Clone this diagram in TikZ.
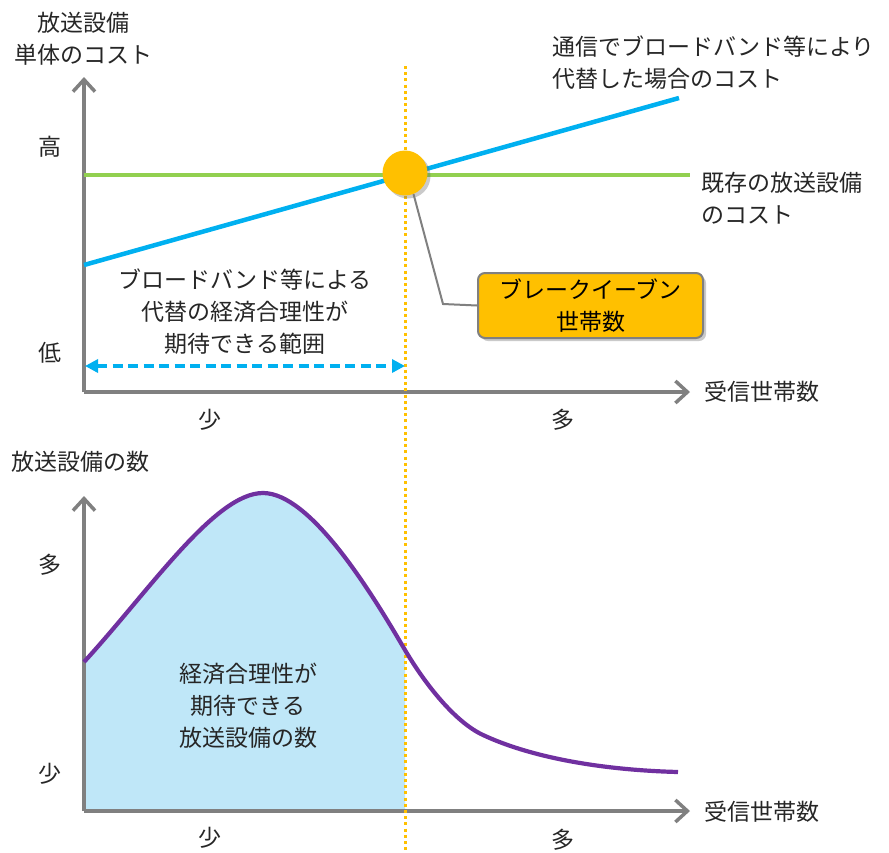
\documentclass[tikz,border=0pt]{standalone}
\usepackage{fontspec}
\newfontfamily\jp{Noto Sans CJK JP}
\usetikzlibrary{arrows.meta,shadows}
\definecolor{txt}{HTML}{262626}
\definecolor{axisgray}{HTML}{808080}
\definecolor{lgreen}{HTML}{92D050}
\definecolor{lblue}{HTML}{00B0F0}
\definecolor{orng}{HTML}{FFC000}
\definecolor{purp}{HTML}{7030A0}
\definecolor{fillblue}{HTML}{BFE7F8}
\begin{document}
\begin{tikzpicture}[x=1pt,y=-1pt,
  every node/.style={font=\jp\fontsize{23}{32}\selectfont, text=txt, inner sep=0pt},
  axis/.style={draw=axisgray, line width=3.5, -{Straight Barb[length=12,width=22,line width=3.5]}},
  myshadow/.style={drop shadow={shadow xshift=3pt, shadow yshift=-3pt, opacity=0.35, fill=black!60}},
  lbl/.style={align=center}]
\useasboundingbox (0,0) rectangle (889,852);

% ---------- coordinates ----------
\coordinate (Y1) at (84,77);
\coordinate (X1) at (690,392);
\coordinate (Y2) at (84,496);
\coordinate (X2) at (690,811);
\coordinate (Dtop) at (405,66);
\coordinate (Dbot) at (405,852);
\coordinate (G0) at (84,175);
\coordinate (G1) at (690,175);
\coordinate (B0) at (84,265);
\coordinate (B1) at (679,98);
\coordinate (A0) at (85,366);
\coordinate (A1) at (405,366);
\coordinate (bend) at (443,304);

\def\curvepath{(84,662) .. controls (150,590) and (215,493) .. (263,493)
  .. controls (310,493) and (370,590) .. (405,650)
  .. controls (425,684) and (455,722) .. (483,735)
  .. controls (530,757) and (600,770) .. (678,772)}

% ---------- bottom fill ----------
\begin{scope}
  \clip (84,480) rectangle (405,811);
  \fill[fillblue] \curvepath -- (678,811) -- (84,811) -- cycle;
\end{scope}

% ---------- axes ----------
\draw[axis] (84,392) -- (Y1);
\draw[axis] (84,392) -- (X1);
\draw[axis] (84,811) -- (Y2);
\draw[axis] (84,811) -- (X2);

% ---------- top chart lines ----------
\draw[lgreen, line width=4.2] (G0) -- (G1);
\draw[lblue, line width=4.5] (B0) -- (B1);

% ---------- dotted guide ----------
\draw[orng, line width=3, dash pattern=on 3 off 3.2] (Dtop) -- (Dbot);

% ---------- dashed range arrow ----------
\draw[lblue, line width=3.5, dash pattern=on 10 off 5.5, {Triangle[length=13,width=13]}-{Triangle[length=13,width=13]}] (A0) -- (A1);

% ---------- bottom curve ----------
\draw[purp, line width=4.2] \curvepath;

% ---------- break-even ----------
\node[circle, fill=orng, minimum size=45, myshadow] (bep) at (405,173) {};
\node[draw=axisgray, line width=2, fill=orng, rounded corners=7, minimum width=225, minimum height=65, align=center, myshadow, text=black] (box) at (590.5,305.5) {ブレークイーブン\\世帯数};
\draw[axisgray, line width=2] (bep.-68) -- (bend) -- (box.west);

% ---------- texts ----------
\node[lbl] (t1) at (83,39) {放送設備\\単体のコスト};
\node[anchor=west, align=left] (t2) at (552,63) {通信でブロードバンド等により\\代替した場合のコスト};
\node[anchor=west, align=left] (t3) at (701,198) {既存の放送設備\\のコスト};
\node (hi) at (50,147) {高};
\node (lo) at (50,353) {低};
\node[lbl] (t4) at (245,312) {ブロードバンド等による\\代替の経済合理性が\\期待できる範囲};
\node (s1) at (210,420) {少};
\node (m1) at (563,420) {多};
\node (x1) at (762,392) {受信世帯数};

\node[anchor=west] (t5) at (11,462) {放送設備の数};
\node (m2) at (50,565) {多};
\node (s2) at (50,774) {少};
\node[lbl] (t6) at (248,706) {経済合理性が\\期待できる\\放送設備の数};
\node (s3) at (210,838) {少};
\node (m3) at (563,840) {多};
\node (x2) at (762,812) {受信世帯数};
\end{tikzpicture}
\end{document}
